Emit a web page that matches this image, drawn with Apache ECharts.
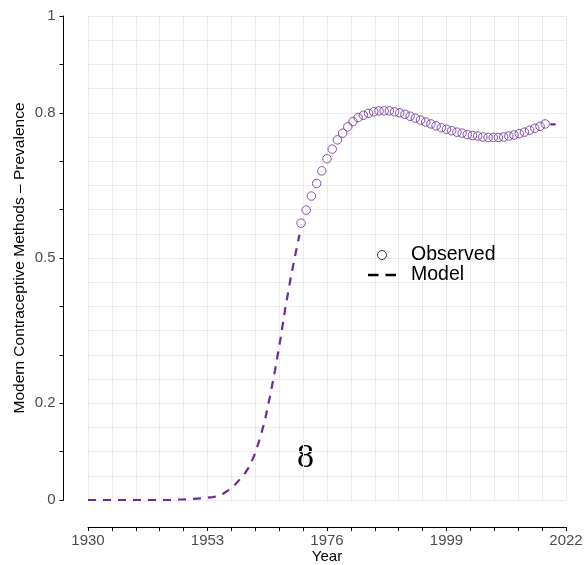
<!DOCTYPE html>
<html><head><meta charset="utf-8">
<script src="https://cdn.jsdelivr.net/npm/echarts@6/dist/echarts.min.js"></script>
<style>html,body{margin:0;padding:0;background:#fff}#c{width:584px;height:565px}</style>
</head><body><div id="c"></div>
<script>
// ---- data ----
const obsYears = [1971,1972,1973,1974,1975,1976,1977,1978,1979,1980,
  1981,1982,1983,1984,1985,1986,1987,1988,1989,1990,
  1991,1992,1993,1994,1995,1996,1997,1998,1999,2000,
  2001,2002,2003,2004,2005,2006,2007,2008,2009,2010,
  2011,2012,2013,2014,2015,2016,2017,2018];
const obsValues = [0.572,0.599,0.628,0.654,0.680,0.705,0.725,0.744,0.758,0.771,
  0.782,0.790,0.795,0.799,0.802,0.804,0.804,0.804,0.802,0.800,
  0.797,0.793,0.789,0.785,0.781,0.777,0.773,0.769,0.766,0.763,
  0.760,0.758,0.755,0.753,0.752,0.750,0.749,0.749,0.749,0.750,
  0.752,0.754,0.757,0.760,0.764,0.768,0.772,0.777];

const modelYears = [1930,1931,1932,1933,1934,1935,1936,1937,1938,1939,
  1940,1941,1942,1943,1944,1945,1946,1947,1948,1949,
  1950,1951,1952,1953,1954,1955,1956,1957,1958,1959,
  1960,1961,1962,1963,1964,1965,1966,1967,1968,1969,
  1970,1970.7,1971,1972,1973,1974,1975,1976,1977,1978,1979,
  1980,1981,1982,1983,1984,1985,1986,1987,1988,1989,
  1990,1991,1992,1993,1994,1995,1996,1997,1998,1999,
  2000,2001,2002,2003,2004,2005,2006,2007,2008,2009,
  2010,2011,2012,2013,2014,2015,2016,2017,2018,2019,2020];
const modelValues = [0,0,0,0,0,0,0,0,0,0,
  0,0,0,0,0,0,0,0.001,0.001,0.0015,
  0.002,0.003,0.0035,0.005,0.006,0.008,0.013,0.020,0.028,0.040,
  0.052,0.068,0.092,0.124,0.162,0.213,0.268,0.330,0.398,0.458,
  0.512,0.548,null,null,null,null,null,null,null,null,null,
  null,null,null,null,null,null,null,null,null,null,
  null,null,null,null,null,null,null,null,null,null,
  null,null,null,null,null,null,null,null,null,null,
  null,null,null,null,null,null,null,null,null,0.776,0.776];

const yTickValues = [0, 0.2, 0.5, 0.8, 1];
const yTickLabels = ['0', '0.2', '0.5', '0.8', '1'];
const annotationText = '8';

// ---- chart ----
const purple = '#6A2A9A';
const chart = echarts.init(document.getElementById('c'), null, {renderer: 'canvas'});
const option = {
  animation: false,
  backgroundColor: '#fff',
  textStyle: {fontFamily: 'Liberation Sans'},
  grid: {left: 88, right: 18, top: 16, bottom: 65, containLabel: false, outerBoundsMode: 'none'},
  xAxis: {
    type: 'value', min: 1930, max: 2022, interval: 23, offset: 27,
    name: 'Year', nameLocation: 'middle', nameGap: 22, nameMoveOverlap: false,
    nameTextStyle: {color: '#000', fontSize: 15, fontFamily: 'Liberation Sans'},
    axisLine: {show: true, onZero: false, lineStyle: {color: '#000', width: 1}},
    axisTick: {show: true, length: 4, lineStyle: {color: '#000', width: 1}},
    minorTick: {show: true, splitNumber: 5, length: 4, lineStyle: {color: '#000', width: 1}},
    axisLabel: {color: '#4d4d4d', fontSize: 15, margin: 6, showMinLabel: true, showMaxLabel: true,
      formatter: v => String(v)},
    splitLine: {show: true, lineStyle: {color: '#ebebeb', width: 1}},
    minorSplitLine: {show: true, lineStyle: {color: '#ebebeb', width: 1}}
  },
  yAxis: {
    type: 'value', min: 0, max: 1, interval: 0.1, offset: 24.5,
    name: 'Modern Contraceptive Methods \u2013 Prevalence', nameLocation: 'middle', nameRotate: 90,
    nameGap: 36, nameMoveOverlap: false,
    nameTextStyle: {color: '#000', fontSize: 15.5, fontFamily: 'Liberation Sans'},
    axisLine: {show: true, onZero: false, lineStyle: {color: '#000', width: 1}},
    axisTick: {show: true, length: 4, lineStyle: {color: '#000', width: 1}},
    minorTick: {show: false, splitNumber: 2},
    axisLabel: {color: '#4d4d4d', fontSize: 15, margin: 8, showMinLabel: true, showMaxLabel: true,
      formatter: v => {
        const i = yTickValues.findIndex(t => Math.abs(t - v) < 1e-6);
        return i >= 0 ? yTickLabels[i] : '';
      }},
    splitLine: {show: true, lineStyle: {color: '#ebebeb', width: 1}},
    minorSplitLine: {show: true, lineStyle: {color: '#ebebeb', width: 1}}
  },
  legend: {
    orient: 'vertical', left: 363, top: 240, itemWidth: 28, itemHeight: 9, itemGap: 0,
    selectedMode: false,
    textStyle: {fontSize: 19.5, color: '#000', lineHeight: 19, padding: [0, 0, 0, 10], fontFamily: 'Liberation Sans'},
    data: [
      {name: 'Observed', icon: 'circle', itemStyle: {color: '#fff', borderColor: '#000', borderWidth: 1}},
      {name: 'Model', icon: 'path://M0,0H9V2H0Z M15,0H24V2H15Z', itemStyle: {color: '#000', borderWidth: 0}}
    ]
  },
  graphic: [{
    type: 'text', x: 305.5, y: 458, silent: true,
    style: {text: annotationText, font: '34px "Liberation Serif"', fill: '#000',
      align: 'center', verticalAlign: 'middle'}
  }],
  series: [
    {
      name: 'Model', type: 'line', showSymbol: false, connectNulls: false,
      data: modelYears.map((y, i) => [y, modelValues[i]]),
      lineStyle: {color: purple, width: 2.2, type: [8, 7]},
      itemStyle: {color: purple}, z: 2
    },
    {
      name: 'Observed', type: 'scatter', symbol: 'circle', symbolSize: 8.5,
      data: obsYears.map((y, i) => [y, obsValues[i]]),
      itemStyle: {color: 'rgba(0,0,0,0)', borderColor: purple, borderWidth: 1}, z: 3
    }
  ]
};
chart.setOption(option);
</script>
</body></html>
